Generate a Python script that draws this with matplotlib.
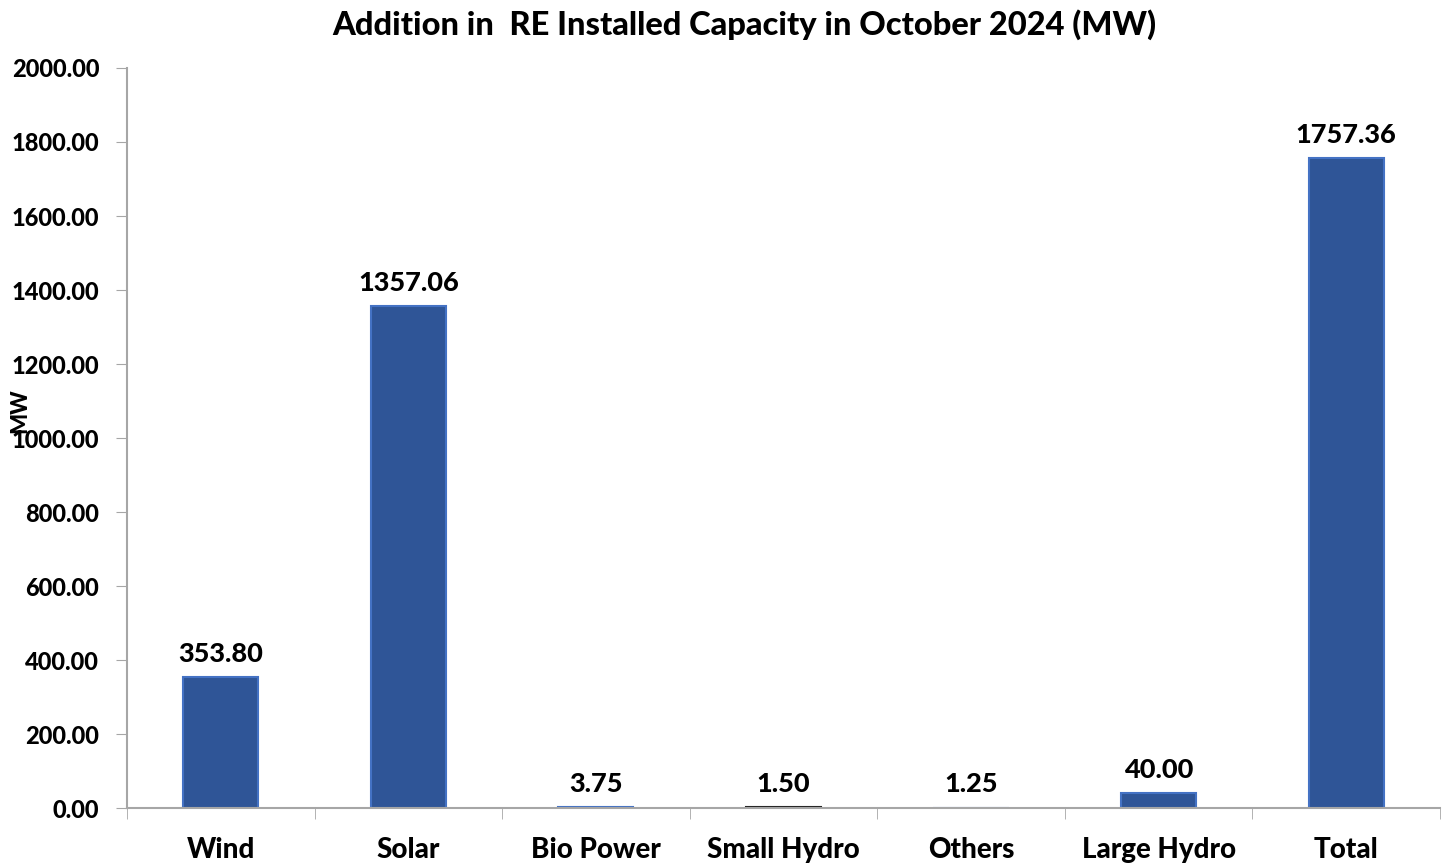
import matplotlib.pyplot as plt

# Data
categories = ["Wind", "Solar", "Bio Power", "Small Hydro", "Others", "Large Hydro", "Total"]
capacity_mw = [353.80, 1357.06, 3.75, 1.50, 1.25, 40.00, 1757.36]
edge_colors = ["#4472C4", "#4472C4", "#4472C4", "#222222", "#4472C4", "#4472C4", "#4472C4"]

plt.rcParams['font.family'] = ['Lato', 'DejaVu Sans']
plt.rcParams['font.weight'] = 'black'

fig = plt.figure(figsize=(14.46, 8.64), dpi=100)
ax = fig.add_axes([0.0878, 0.0648, 0.908, 0.8565])

x = list(range(len(categories)))
ax.bar(x, capacity_mw, width=0.4, color="#2F5597", edgecolor=edge_colors, linewidth=1.5)

# value labels above bars
for i, val in enumerate(capacity_mw):
    ax.annotate(f"{val:.2f}", (i, val), xytext=(0, 8), textcoords="offset points",
                ha="center", va="bottom", fontsize=19.5, fontweight="black", color="black")

ax.set_xlim(-0.5, len(categories) - 0.5)
ax.set_ylim(0, 2000)
ax.set_yticks(range(0, 2001, 200))
ax.set_yticklabels([f"{v:.2f}" for v in range(0, 2001, 200)], fontsize=17, fontweight="black")

# category labels at centres, tick marks at boundaries
ax.set_xticks(x)
ax.set_xticklabels(categories, fontsize=20, fontweight="black")
ax.tick_params(axis="x", which="major", length=0, pad=21)
ax.set_xticks([i - 0.5 for i in range(len(categories) + 1)], minor=True)
ax.tick_params(axis="x", which="minor", length=8, color="#A6A6A6", direction="out")
ax.tick_params(axis="y", length=8, color="#A6A6A6", direction="out", pad=12)

for side in ["top", "right"]:
    ax.spines[side].set_visible(False)
for side in ["left", "bottom"]:
    ax.spines[side].set_color("#A6A6A6")
    ax.spines[side].set_linewidth(1.5)

fig.text(0.515, 0.972, "Addition in  RE Installed Capacity in October 2024 (MW)",
         ha="center", va="center", fontsize=23.5, fontweight="black")
fig.text(0.014, 0.525, "MW", rotation=90, ha="center", va="center", fontsize=16, fontweight="black")

fig.savefig("out.png", dpi=100)
